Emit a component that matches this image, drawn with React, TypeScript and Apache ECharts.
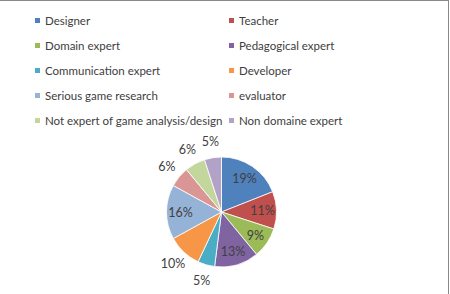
import React, { useEffect, useRef } from "react";
import * as echarts from "echarts";

const categories = [
  "Designer",
  "Teacher",
  "Domain expert",
  "Pedagogical expert",
  "Communication expert",
  "Developer",
  "Serious game research",
  "evaluator",
  "Not expert of game analysis/design",
  "Non domaine expert",
];
const values = [19, 11, 9, 13, 5, 10, 16, 6, 6, 5];
const colors = [
  "#4F81BD",
  "#C0504D",
  "#9BBB59",
  "#8064A2",
  "#4BACC6",
  "#F79646",
  "#95B3D7",
  "#D99694",
  "#C3D69B",
  "#B3A2C7",
];
const insideLabels = [true, true, true, true, false, false, true, false, false, false];

export default function App() {
  const ref = useRef<HTMLDivElement>(null);
  useEffect(() => {
    if (!ref.current) return;
    const chart = echarts.init(ref.current, undefined, { renderer: "svg" });
    const font = "Lato, 'Liberation Sans', sans-serif";
    const legendBase = {
      orient: "vertical" as const,
      itemWidth: 7,
      itemHeight: 7,
      itemGap: 11,
      icon: "rect",
      selectedMode: false,
      textStyle: { fontFamily: font, fontSize: 11.5, color: "#404040", lineHeight: 14, padding: [0, 0, 0, -1] },
      padding: 0,
    };
    const center = [221.5, 212];
    const labelStyle = { fontFamily: font, fontSize: 12.5, color: "#404040", formatter: "{d}%" };
    const overlay = (radius: number[], pick: (i: number) => boolean) => ({
      type: "pie",
      center,
      radius,
      startAngle: 90,
      clockwise: true,
      silent: true,
      legendHoverLink: false,
      avoidLabelOverlap: false,
      itemStyle: { color: "rgba(0,0,0,0)", borderWidth: 0 },
      emphasis: { disabled: true },
      labelLine: { show: false },
      data: categories.map((name, i) => ({
        name,
        value: values[i],
        label: { show: pick(i), position: "inside", ...labelStyle },
      })),
    });
    chart.setOption({
      animation: false,
      color: colors,
      legend: [
        { ...legendBase, left: 33, top: 13.5, data: categories.filter((_, i) => i % 2 === 0) },
        { ...legendBase, left: 227, top: 13.5, data: categories.filter((_, i) => i % 2 === 1) },
      ],
      graphic: [
        { type: "line", shape: { x1: 0, y1: 0.5, x2: 448.5, y2: 0.5 }, style: { stroke: "#8a8a8a", lineWidth: 1 } },
        { type: "line", shape: { x1: 448.5, y1: 0, x2: 448.5, y2: 294 }, style: { stroke: "#8a8a8a", lineWidth: 1 } },
      ],
      series: [
        {
          type: "pie",
          center,
          radius: 55,
          startAngle: 90,
          clockwise: true,
          avoidLabelOverlap: false,
          itemStyle: { borderColor: "#ffffff", borderWidth: 0.8 },
          label: { show: false },
          labelLine: { show: false },
          data: categories.map((name, i) => ({ name, value: values[i], itemStyle: { color: colors[i] } })),
        },
        overlay([21, 55], (i) => insideLabels[i]),
        overlay([55, 81], (i) => !insideLabels[i]),
      ],
    });
    return () => chart.dispose();
  }, []);
  return (
    <div
      ref={ref}
      style={{ position: "fixed", left: 0, top: 0, width: 450, height: 294, background: "#fff" }}
    />
  );
}
